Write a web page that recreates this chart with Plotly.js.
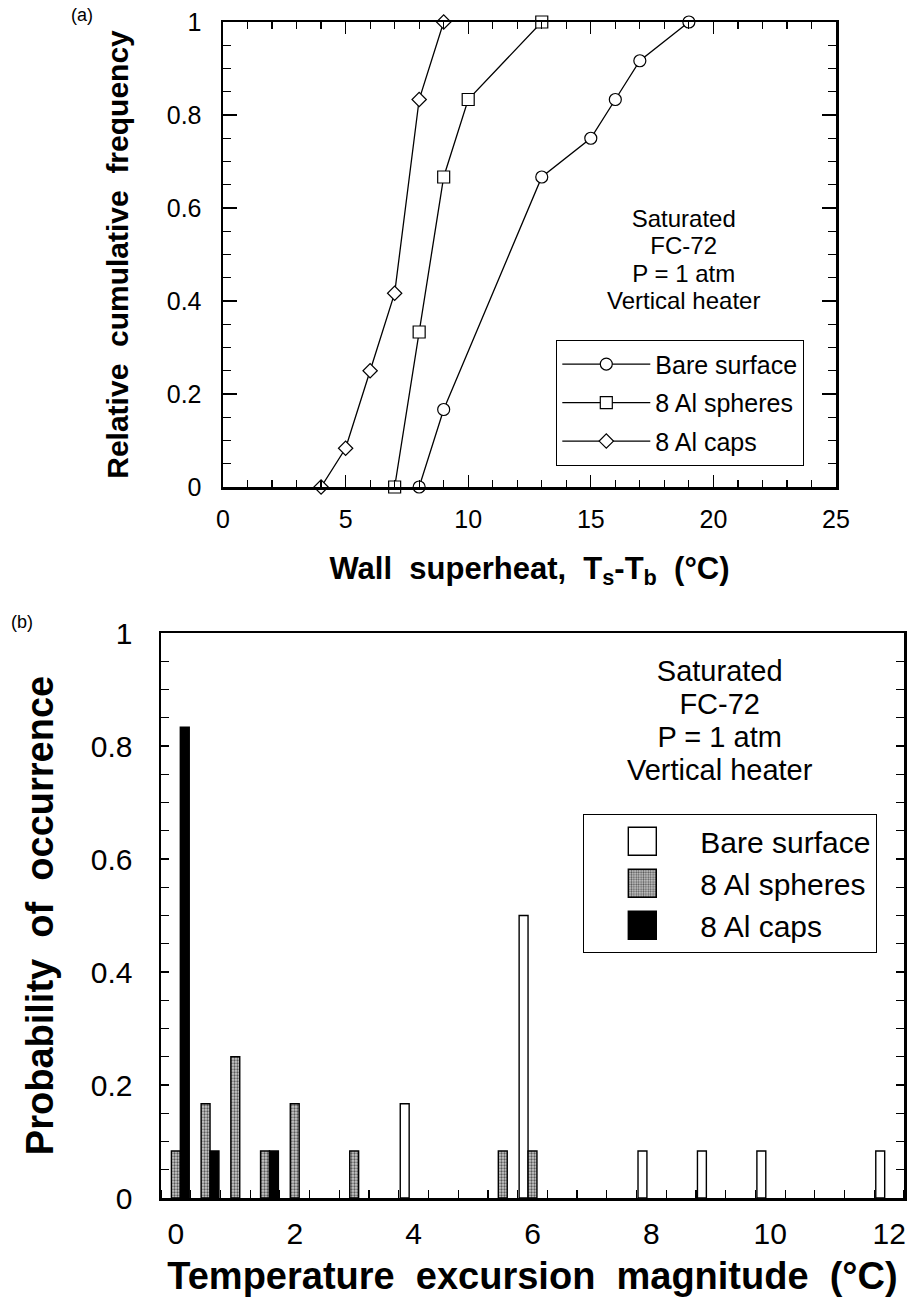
<!DOCTYPE html>
<html>
<head>
<meta charset="utf-8">
<script src="https://cdn.plot.ly/plotly-3.0.1.min.js"></script>
<style>
  html, body { margin: 0; padding: 0; background: #fff; }
  #chart { width: 910px; height: 1299px; }
</style>
</head>
<body>
<div id="chart"></div>
<script>
// ---------- Data: (a) cumulative frequency ----------
const superheatBare    = [8, 9, 13, 15, 16, 17, 19];
const freqBare         = [0, 0.1667, 0.6667, 0.75, 0.8333, 0.9167, 1];
const superheatSpheres = [7, 8, 9, 10, 13];
const freqSpheres      = [0, 0.3333, 0.6667, 0.8333, 1];
const superheatCaps    = [4, 5, 6, 7, 8, 9];
const freqCaps         = [0, 0.0833, 0.25, 0.4167, 0.8333, 1];

// ---------- Data: (b) probability of occurrence ----------
const excursionBare    = [4, 6, 8, 9, 10, 12];
const probBare         = [0.1667, 0.5, 0.0833, 0.0833, 0.0833, 0.0833];
const excursionSpheres = [0, 0.5, 1, 1.5, 2, 3, 5.5, 6];
const probSpheres      = [0.0833, 0.1667, 0.25, 0.0833, 0.1667, 0.0833, 0.0833, 0.0833];
const excursionCaps    = [0, 0.5, 1.5];
const probCaps         = [0.8333, 0.0833, 0.0833];

const seriesNames = ['Bare surface', '8 Al spheres', '8 Al caps'];
const conditionLines = ['Saturated', 'FC-72', 'P = 1 atm', 'Vertical heater'];
const excursionTicks = [0, 2, 4, 6, 8, 10, 12];

const FONT = 'Liberation Sans, Arial, Helvetica, sans-serif';
const W = 910, H = 1299;
const px = v => v / W;
const py = v => 1 - v / H;
const sp = '\u00A0\u00A0';

function lineTrace(x, y, name, symbol, grp) {
  return {
    type: 'scatter', mode: 'lines+markers', x: x, y: y, name: name,
    xaxis: 'x', yaxis: 'y', legend: 'legend', legendgroup: grp,
    cliponaxis: false,
    line: { color: '#000', width: 1.3 },
    marker: { symbol: symbol, size: symbol === 'diamond' ? 11 : 12, color: '#fff',
              line: { color: '#000', width: 1.2 } }
  };
}

function barTrace(x, y, name, offset, marker) {
  return {
    type: 'bar', x: x, y: y, name: name, xaxis: 'x2', yaxis: 'y2',
    legend: 'legend2', width: 0.15, offset: offset, marker: marker
  };
}

const traces = [
  lineTrace(superheatBare, freqBare, seriesNames[0], 'circle', 'g1'),
  lineTrace(superheatSpheres, freqSpheres, seriesNames[1], 'square', 'g2'),
  lineTrace(superheatCaps, freqCaps, seriesNames[2], 'diamond', 'g3'),
  barTrace(excursionBare, probBare, seriesNames[0], -0.225,
           { color: '#fff', line: { color: '#000', width: 1.4 } }),
  barTrace(excursionSpheres, probSpheres, seriesNames[1], -0.075,
           { color: '#a8a8a8', line: { color: '#000', width: 1.4 },
             pattern: { shape: '.', size: 3, solidity: 0.45, fgcolor: '#5a5a5a', bgcolor: '#cacaca' } }),
  barTrace(excursionCaps, probCaps, seriesNames[2], 0.075,
           { color: '#000', line: { color: '#000', width: 1.4 } })
];

const axisCommon = {
  showgrid: false, zeroline: false, showline: true, linecolor: '#000',
  ticks: 'inside', tickcolor: '#000', fixedrange: true, automargin: false
};

// multi-line block: base font sets line spacing (1.3 em), spans set glyph size
function block(lines, glyphPx) {
  return lines.map(t => '<span style="font-size:' + glyphPx + 'px">' + t + '</span>').join('<br>');
}

const layout = {
  width: W, height: H,
  margin: { l: 0, r: 0, t: 0, b: 0 },
  paper_bgcolor: '#fff', plot_bgcolor: '#fff',
  font: { family: FONT, color: '#000' },
  barmode: 'overlay',
  showlegend: true,
  xaxis: Object.assign({}, axisCommon, {
    domain: [px(223), px(836)], anchor: 'y', range: [0, 25],
    dtick: 5, tick0: 0, ticklen: 12, tickwidth: 1.3, linewidth: 2.5,
    mirror: 'allticks', ticklabelstandoff: 8,
    tickfont: { size: 25, family: FONT },
    minor: { dtick: 1, ticks: 'inside', ticklen: 7, tickwidth: 1.2, tickcolor: '#000', showgrid: false },
    title: { text: '<b>Wall' + sp + 'superheat,' + sp + 'T<sub>s</sub>-T<sub>b</sub>' + sp + '(°C)</b>',
             font: { size: 31, family: FONT, color: '#000' }, standoff: 26 }
  }),
  yaxis: Object.assign({}, axisCommon, {
    domain: [py(487), py(22)], anchor: 'x', range: [0, 1],
    dtick: 0.2, tick0: 0, ticklen: 14, tickwidth: 1.3, linewidth: 2.5,
    mirror: 'allticks', ticklabelstandoff: 14,
    tickfont: { size: 25, family: FONT },
    minor: { dtick: 0.05, ticks: 'inside', ticklen: 8, tickwidth: 1.2, tickcolor: '#000', showgrid: false },
    title: { text: '<b>Relative' + sp + 'cumulative' + sp + 'frequency</b>',
             font: { size: 30, family: FONT, color: '#000' }, standoff: 29 }
  }),
  xaxis2: Object.assign({}, axisCommon, {
    domain: [px(161), px(904)], anchor: 'y2', range: [-0.25, 12.25],
    tickmode: 'array', tickvals: excursionTicks, ticks: '',
    linewidth: 2.5, mirror: true, ticklabelstandoff: 7,
    tickfont: { size: 30, family: FONT },
    minor: { tick0: 0.25, dtick: 0.5, ticks: 'inside', ticklen: 8, tickwidth: 1.2, tickcolor: '#000', showgrid: false },
    title: { text: '<b>Temperature' + sp + 'excursion' + sp + 'magnitude' + sp + '(°C)</b>',
             font: { size: 38, family: FONT, color: '#000' }, standoff: 14 }
  }),
  yaxis2: Object.assign({}, axisCommon, {
    domain: [py(1198), py(633)], anchor: 'x2', range: [0, 1],
    dtick: 0.2, tick0: 0, ticklen: 8, tickwidth: 1.2, linewidth: 2.5,
    mirror: 'allticks', ticklabelstandoff: 20,
    tickfont: { size: 30, family: FONT },
    minor: { dtick: 0.05, ticks: 'inside', ticklen: 8, tickwidth: 1.2, tickcolor: '#000', showgrid: false },
    title: { text: '<b>Probability' + sp + 'of' + sp + 'occurrence</b>',
             font: { size: 38, family: FONT, color: '#000' }, standoff: 26 }
  }),
  legend: {
    x: px(556), y: py(340), xanchor: 'left', yanchor: 'top',
    bgcolor: '#fff', bordercolor: '#000', borderwidth: 1.3,
    font: { size: 25, family: FONT }, itemwidth: 88,
    traceorder: 'grouped', tracegroupgap: 3, itemclick: false, itemdoubleclick: false
  },
  legend2: {
    x: px(583), y: py(814), xanchor: 'left', yanchor: 'top',
    bgcolor: '#fff', bordercolor: '#000', borderwidth: 1.3,
    font: { size: 30, family: FONT }, itemwidth: 106,
    traceorder: 'normal', itemclick: false, itemdoubleclick: false
  },
  annotations: [
    // panel labels
    { text: '(a)', x: px(82), y: py(15), font: { size: 18 } },
    { text: '(b)', x: px(22), y: py(622), font: { size: 18 } },
    // condition text blocks (line pitch 27.5 px and 33 px)
    { text: block(conditionLines, 24), x: px(683), y: py(259), font: { size: 21.15 } },
    { text: block(conditionLines, 29), x: px(720), y: py(720), font: { size: 25.4 } }
  ].map(a => Object.assign({ xref: 'paper', yref: 'paper', showarrow: false,
                              xanchor: 'center', yanchor: 'middle', align: 'center', borderpad: 0 },
                            a, { font: Object.assign({ size: 26, family: FONT, color: '#000' }, a.font || {}) }))
};

Plotly.newPlot('chart', traces, layout, { displayModeBar: false, staticPlot: true }).then(gd => {
  // enlarge the bar swatches of the lower legend to the reference's size
  gd.querySelectorAll('g.legend2 .legendpoints path').forEach(p => {
    const d = p.getAttribute('d') || '';
    if (/^M6,6H-6V-6H6Z$/.test(d)) p.setAttribute('d', 'M14,14H-14V-14H14Z');
  });
});
</script>
</body>
</html>
